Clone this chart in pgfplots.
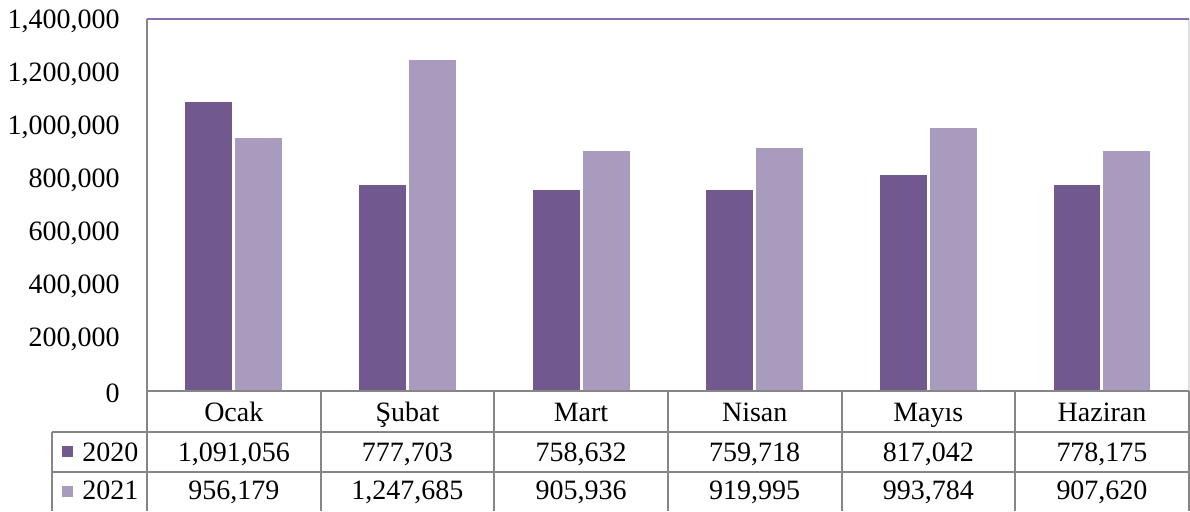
\documentclass[border=0pt]{standalone}
\usepackage{fontspec}
\setmainfont{Liberation Serif}
\usepackage{pgfplots}
\usepackage{pgfplotstable}
\pgfplotsset{compat=1.18}
\definecolor{c20}{RGB}{113,88,143}
\definecolor{c21}{RGB}{169,155,190}
\definecolor{topc}{RGB}{136,110,170}
\definecolor{linec}{RGB}{134,134,134}
\newcommand{\tf}{\fontsize{14}{16}\selectfont}

\pgfplotstableread{
idx y2020   y2021
0   1091056 956179
1   777703  1247685
2   758632  905936
3   759718  919995
4   817042  993784
5   778175  907620
}\sales

\begin{document}
\begin{tikzpicture}[cell/.style={font=\tf, anchor=base}]
\begin{axis}[
    scale only axis, width=521pt, height=186pt,
    xmin=-0.5, xmax=5.5, ymin=0, ymax=1400000,
    ybar=0.5pt, bar width=24.5pt,
    axis line style={draw=none},
    xtick=\empty, ytick={0,200000,400000,600000,800000,1000000,1200000,1400000},
    ytick style={draw=none},
    scaled y ticks=false,
    /pgf/number format/fixed,
    /pgf/number format/1000 sep={,},
    /pgf/number format/assume math mode=true,
    yticklabel style={font=\tf, inner sep=0pt, xshift=-13.5pt, yshift=-1pt},
    clip=false,
]
\addplot[fill=c20, draw=white, line width=1pt] table[x=idx, y=y2020] {\sales};
\addplot[fill=c21, draw=white, line width=1pt] table[x=idx, y=y2021] {\sales};

% frame of the plot area
\draw[linec, line width=1pt] (axis cs:-0.5,0) -- (axis cs:-0.5,1400000);
\draw[gray!25, line width=1pt] (axis cs:5.5,0) -- (axis cs:5.5,1400000);
\draw[topc, line width=1.2pt] (axis cs:-0.5,1400000) -- (axis cs:5.5,1400000);

% data table below
\draw[linec, line width=1pt] (axis cs:-0.5,0) -- (axis cs:5.5,0);
\draw[linec, line width=1pt] (axis cs:-1.047,-154300) -- (axis cs:5.5,-154300);
\draw[linec, line width=1pt] (axis cs:-1.047,-304800) -- (axis cs:5.5,-304800);
\draw[linec, line width=1pt] (axis cs:-1.047,-154300) -- (axis cs:-1.047,-451600);
\pgfplotsinvokeforeach{-0.5,0.5,1.5,2.5,3.5,4.5,5.5}{
  \draw[linec, line width=1pt] (axis cs:#1,0) -- (axis cs:#1,-451600);
}

\node[cell] at (axis cs:0,-116700) {Ocak};
\node[cell] at (axis cs:1,-116700) {Şubat};
\node[cell] at (axis cs:2,-116700) {Mart};
\node[cell] at (axis cs:3,-116700) {Nisan};
\node[cell] at (axis cs:4,-116700) {Mayıs};
\node[cell] at (axis cs:5,-116700) {Haziran};

\node[fill=c20, minimum size=5.5pt, inner sep=0pt] at (axis cs:-0.958,-229570) {};
\node[fill=c21, minimum size=5.5pt, inner sep=0pt] at (axis cs:-0.958,-378220) {};
\node[cell, anchor=base west, inner sep=0pt] at (axis cs:-0.874,-266000) {2020};
\node[cell, anchor=base west, inner sep=0pt] at (axis cs:-0.874,-410200) {2021};

\node[cell] at (axis cs:0,-266000) {1,091,056};
\node[cell] at (axis cs:1,-266000) {777,703};
\node[cell] at (axis cs:2,-266000) {758,632};
\node[cell] at (axis cs:3,-266000) {759,718};
\node[cell] at (axis cs:4,-266000) {817,042};
\node[cell] at (axis cs:5,-266000) {778,175};

\node[cell] at (axis cs:0,-410200) {956,179};
\node[cell] at (axis cs:1,-410200) {1,247,685};
\node[cell] at (axis cs:2,-410200) {905,936};
\node[cell] at (axis cs:3,-410200) {919,995};
\node[cell] at (axis cs:4,-410200) {993,784};
\node[cell] at (axis cs:5,-410200) {907,620};

\path (axis cs:-1.3464,-451600) rectangle (axis cs:5.5058,1471500);
\end{axis}
\end{tikzpicture}
\end{document}
